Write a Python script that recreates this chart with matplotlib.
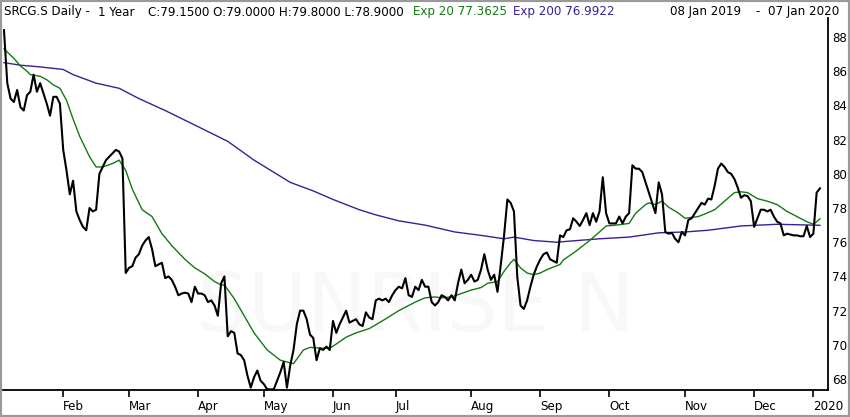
import matplotlib
matplotlib.use('Agg')
import matplotlib.pyplot as plt
import pandas as pd
from matplotlib.patches import Rectangle

# SIX trading calendar 08 Jan 2019 - 07 Jan 2020
holidays = ['2019-04-19', '2019-04-22', '2019-05-01', '2019-05-30', '2019-06-10',
            '2019-08-01', '2019-12-24', '2019-12-25', '2019-12-26', '2019-12-31',
            '2020-01-01', '2020-01-02']
dates = pd.bdate_range('2019-01-08', '2020-01-07')
dates = dates[~dates.isin(pd.to_datetime(holidays))]

close = [88.4, 85.3, 84.4, 84.2, 84.9, 83.9, 83.7, 84.6, 84.8, 85.8,
         84.8, 85.3, 84.7, 84.1, 83.4, 84.5, 84.5, 84.1, 81.4, 80.2,
         78.8, 79.6, 77.8, 77.3, 76.9, 76.7, 78.0, 77.8, 77.9, 80.0,
         80.4, 80.8, 81.0, 81.2, 81.4, 81.3, 80.9, 74.2, 74.5, 74.6,
         75.1, 75.3, 75.8, 76.1, 76.3, 75.6, 74.6, 74.7, 74.8, 73.9,
         74.0, 73.8, 73.4, 72.9, 73.0, 73.05, 73.0, 72.5, 73.4, 73.0,
         73.0, 72.9, 72.5, 72.6, 72.3, 71.7, 73.6, 74.0, 70.5, 70.8,
         70.7, 69.5, 69.4, 69.1, 68.2, 67.5, 68.1, 68.5, 67.9, 67.7,
         67.4, 67.4, 67.4, 67.9, 68.4, 69.0, 67.5, 68.8, 69.7, 71.2,
         72.0, 72.0, 71.5, 70.6, 70.4, 69.1, 69.8, 69.7, 69.9, 69.7,
         71.4, 70.7, 71.2, 71.6, 72.0, 71.3, 71.4, 71.5, 71.2, 71.1,
         71.9, 71.6, 71.5, 72.6, 72.7, 72.6, 72.7, 72.5, 72.9, 73.2,
         73.4, 73.3, 73.9, 72.9, 72.8, 73.4, 73.2, 73.8, 73.4, 73.4,
         72.5, 72.3, 72.5, 72.9, 72.8, 72.6, 72.9, 72.6, 73.6, 74.4,
         73.6, 73.8, 74.1, 73.7, 73.8, 74.4, 75.3, 74.4, 73.8, 74.1,
         73.1, 74.7, 76.4, 78.5, 78.3, 77.8, 74.0, 72.3, 72.1, 72.6,
         73.4, 74.1, 74.6, 75.0, 75.3, 75.4, 75.0, 74.9, 74.8, 76.4,
         76.3, 76.7, 76.75, 77.4, 77.2, 76.95, 77.3, 77.7, 77.0, 77.7,
         77.2, 77.8, 79.8, 77.7, 77.1, 77.1, 77.1, 77.5, 77.1, 77.5,
         77.7, 80.5, 80.3, 80.3, 80.1, 79.5, 78.9, 78.3, 77.7, 79.5,
         78.8, 76.6, 76.5, 76.55, 76.2, 76.0, 76.6, 76.4, 77.3, 77.4,
         77.7, 78.0, 78.3, 78.2, 78.55, 78.5, 79.3, 80.3, 80.6, 80.4,
         80.1, 80.0, 79.7, 79.2, 78.6, 78.75, 78.7, 78.4, 76.9, 77.4,
         77.9, 77.9, 77.8, 77.9, 77.5, 77.2, 77.1, 76.4, 76.5, 76.45,
         76.4, 76.4, 76.35, 76.35, 76.95, 76.3, 76.5, 78.9, 79.15]

ema20_days = [0, 3, 5, 7, 8, 11, 13, 15, 17, 19,
              21, 23, 26, 28, 30, 33, 35, 37, 39, 41,
              42, 45, 48, 51, 55, 58, 61, 64, 66, 67,
              70, 73, 76, 80, 84, 88, 91, 93, 97, 99,
              101, 104, 107, 111, 115, 120, 125, 128, 131, 133,
              136, 139, 142, 145, 147, 150, 152, 154, 155, 157,
              159, 161, 163, 165, 167, 169, 170, 174, 178, 181,
              183, 186, 190, 192, 195, 196, 198, 200, 202, 205,
              207, 209, 211, 213, 216, 219, 222, 224, 226, 229,
              232, 235, 238, 241, 244, 246, 247, 248]
ema20 = [87.3, 86.75, 86.3, 86.0, 85.8, 85.7, 85.5, 85.2, 85.0, 84.3,
         83.2, 82.2, 81.0, 80.4, 80.4, 80.6, 80.8, 80.2, 79.1, 78.3,
         77.9, 77.5, 76.5, 75.8, 75.0, 74.5, 74.15, 73.7, 73.5, 73.5,
         72.7, 71.7, 70.7, 69.7, 69.1, 68.9, 69.7, 69.85, 69.8, 69.8,
         70.05, 70.45, 70.7, 70.95, 71.4, 72.0, 72.5, 72.75, 72.8, 72.75,
         72.8, 73.0, 73.2, 73.35, 73.6, 73.7, 74.3, 74.8, 75.0, 74.5,
         74.2, 74.1, 74.2, 74.4, 74.55, 74.7, 74.96, 75.5, 76.1, 76.6,
         76.95, 77.0, 77.1, 77.7, 78.2, 78.3, 78.2, 78.4, 78.05, 77.7,
         77.4, 77.45, 77.5, 77.65, 77.9, 78.4, 78.9, 78.95, 78.9, 78.55,
         78.4, 78.2, 77.8, 77.5, 77.2, 77.05, 77.2, 77.36]

ema200_days = [0, 5, 11, 18, 21, 28, 35, 41, 49, 58, 68, 76, 87, 94, 100, 108, 113,
               120, 128, 137, 145, 152, 155, 161, 168, 171, 181, 190, 199, 207, 214,
               224, 235, 248]
ema200 = [86.5, 86.35, 86.25, 86.1, 85.8, 85.3, 85.0, 84.4, 83.7, 82.85, 81.9, 80.8,
          79.5, 79.0, 78.5, 77.9, 77.6, 77.25, 77.0, 76.6, 76.4, 76.2, 76.3, 76.1,
          76.0, 76.05, 76.2, 76.3, 76.55, 76.6, 76.7, 76.95, 77.05, 76.99]

yticks = [68, 70, 72, 74, 76, 78, 80, 82, 84, 86, 88]

green = '#127a12'
purple = '#3b1f95'

fig = plt.figure(figsize=(8.5, 4.17), dpi=100)
ax = fig.add_axes([3 / 850, 27 / 417, 825 / 850, 372 / 417])

days = list(range(len(close)))
ax.text(125, 72.1, 'SUNRISE N', fontsize=58, color='#f8f8f8', ha='center', va='center', zorder=0)
ax.plot(ema200_days, ema200, color=purple, lw=1.0, zorder=2)
ax.plot(ema20_days, ema20, color=green, lw=1.0, zorder=3)
ax.plot(days, close, color='black', lw=1.5, zorder=4)

ax.set_xlim(-0.3, 250.45)
ax.set_ylim(67.36, 89.11)

# month ticks at first trading day of each month
months = pd.Series(range(len(dates)), index=dates)
first = months.groupby([dates.year, dates.month]).first()
tick_pos, tick_lab = [], []
for (yr, mo), idx in first.items():
    if idx == 0:
        continue
    tick_pos.append(idx)
    tick_lab.append(str(yr) if mo == 1 else dates[idx].strftime('%b'))
ax.set_xticks(tick_pos)
ax.set_xticklabels(tick_lab, ha='left')
ax.tick_params(axis='x', length=5, width=1.2, direction='out', pad=2, labelsize=8.6)

ax.yaxis.tick_right()
ax.set_yticks(yticks)
ax.set_yticklabels([str(v) for v in yticks])
ax.tick_params(axis='y', length=0, pad=3, labelsize=8.6)

for s in ['top', 'left']:
    ax.spines[s].set_visible(False)
ax.spines['bottom'].set_linewidth(1.3)
ax.spines['right'].set_linewidth(1.3)

ty = 1 - 12 / 417
fs = 8.6
fig.text(4 / 850, ty, 'SRCG.S Daily -', fontsize=fs, va='center')
fig.text(98 / 850, ty, '1 Year', fontsize=fs, va='center')
fig.text(148 / 850, ty, 'C:79.1500 O:79.0000 H:79.8000 L:78.9000', fontsize=fs, va='center')
fig.text(413 / 850, ty, 'Exp 20 77.3625', fontsize=fs, va='center', color=green)
fig.text(513 / 850, ty, 'Exp 200 76.9922', fontsize=fs, va='center', color=purple)
fig.text(670 / 850, ty, '08 Jan 2019', fontsize=fs, va='center')
fig.text(755 / 850, ty, '-', fontsize=fs, va='center')
fig.text(768 / 850, ty, '07 Jan 2020', fontsize=fs, va='center')

fig.patches.append(Rectangle((0, 0), 1, 1, transform=fig.transFigure, fill=False,
                             edgecolor='#9a9a9a', linewidth=3))

fig.savefig('out.png', dpi=100)
